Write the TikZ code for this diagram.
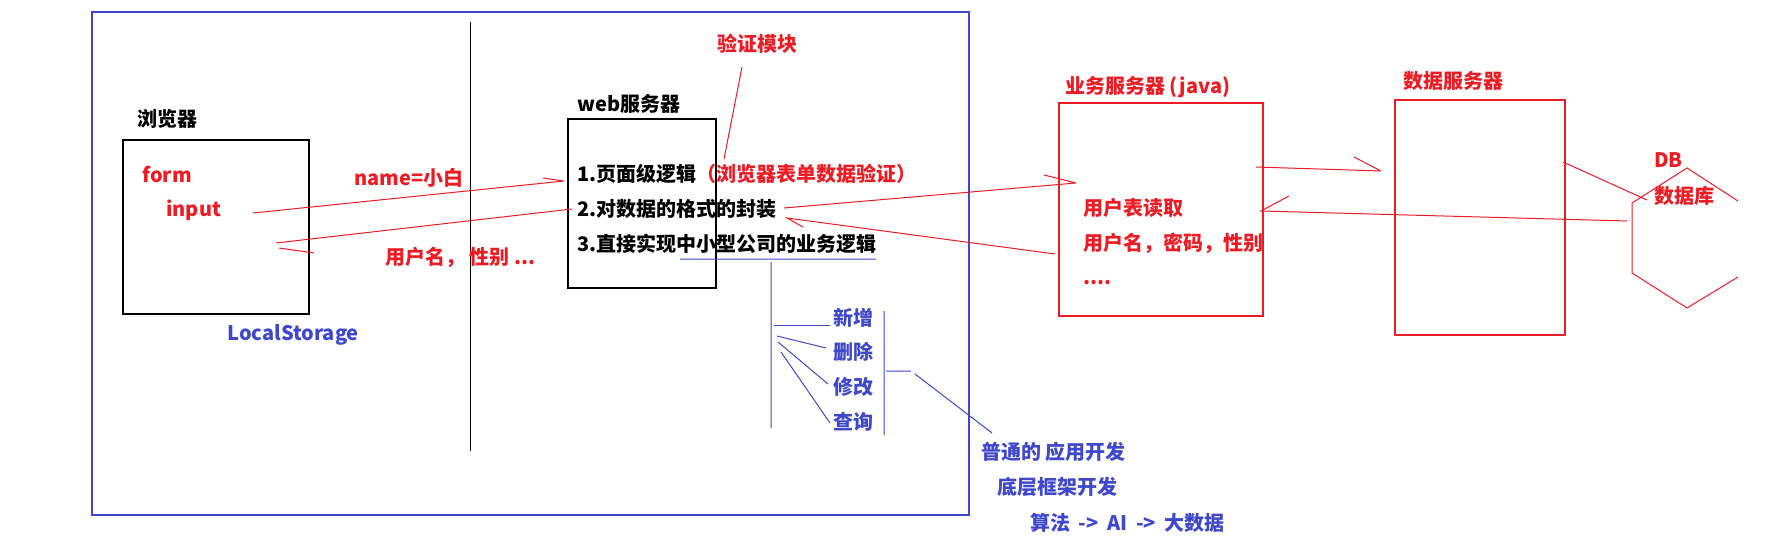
\documentclass[tikz,border=0pt]{standalone}
\usepackage{fontspec}
\setmainfont{Noto Sans CJK SC}
\usetikzlibrary{positioning}
\definecolor{pred}{HTML}{ED1C24}
\definecolor{pblue}{HTML}{3F48CC}
\tikzset{
  lbl/.style={anchor=west,inner sep=0pt,font=\bfseries},
  redlbl/.style={lbl,text=pred},
  bluelbl/.style={lbl,text=pblue},
  box/.style={draw,line width=0.6pt,inner sep=0pt},
  redline/.style={pred,line width=0.5pt},
  blueline/.style={pblue,line width=0.5pt},
}

\begin{document}
\begin{tikzpicture}[x=0.5pt,y=-0.5pt]
\useasboundingbox (0,0) rectangle (1789,546);
% outer frame and divider
\draw[pblue,line width=0.7pt] (92,12) rectangle (969,515);
\coordinate (div-top) at (470,22);
\coordinate (div-bot) at (470,451);
\draw[line width=0.5pt] (div-top) -- (div-bot);

% browser
\node[box,minimum width=93pt,minimum height=87pt] (browser) at (216,227) {};
\node[lbl] (browser-t) at (137,119) {浏览器};
\node[redlbl] (form) at (142,175) {form};
\node[redlbl] (input) at (166,210) {input};
\node[bluelbl] (storage) at (227,335) {LocalStorage};
\node[redlbl] (req) at (354,178) {name=小白};
\node[redlbl] (resp) at (385,257) {用户名， 性别 ...};

% web server
\node[box,minimum width=74pt,minimum height=84.5pt] (web) at (642,203.5) {};
\node[lbl] (web-t) at (577,104) {web服务器};
\node[redlbl] (check) at (717,44) {验证模块};
\node[lbl] (item1) at (577,174) {1.页面级逻辑\textcolor{pred}{（浏览器表单数据验证）}};
\node[lbl] (item2) at (577,209) {2.对数据的格式的封装};
\node[lbl] (item3) at (577,244) {3.直接实现中小型公司的业务逻辑};

% crud
\foreach \y/\name/\txt in {318/add/新增,352/del/删除,387/mod/修改,422/qry/查询}
  \node[bluelbl] (\name) at (833,\y) {\txt};
\node[bluelbl] (dev1) at (981,452) {普通的 应用开发};
\node[bluelbl] (dev2) at (997,487) {底层框架开发};
\node[bluelbl] (dev3) at (1030,523) {算法 \hspace{2pt}-> \hspace{2pt}AI \hspace{2pt}-> \hspace{2pt}大数据};

% business and data servers
\node[box,draw=pred,minimum width=102pt,minimum height=106.5pt] (biz) at (1161,209.5) {};
\node[redlbl] (biz-t) at (1065,87) {业务服务器 (java)};
\node[redlbl] (read) at (1083,208) {用户表读取};
\node[redlbl] (cols) at (1083,243) {用户名，密码，性别};
\node[redlbl] (more) at (1083,283) {....};
\node[box,draw=pred,minimum width=85pt,minimum height=117.5pt] (data) at (1480,217.5) {};
\node[redlbl] (data-t) at (1403,81) {数据服务器};
\node[redlbl] (db-t) at (1654,160) {DB};
\node[redlbl] (db-sub) at (1654,196) {数据库};
\draw[redline] (1738,201) -- (1687,168) -- (1632,203) -- (1632,273) -- (1687,308) -- (1738,277);

% red connectors
\coordinate (a1) at (253,213); \coordinate (a2) at (564,181); \coordinate (a3) at (543,178);
\coordinate (b1) at (572,209); \coordinate (b2) at (276,243); \coordinate (b3) at (279,248); \coordinate (b4) at (314,253);
\coordinate (c1) at (742,67); \coordinate (c2) at (724,159);
\coordinate (d1) at (784,208); \coordinate (d2) at (1076,183); \coordinate (d3) at (1044,175);
\coordinate (e1) at (1055,254); \coordinate (e2) at (787,218); \coordinate (e3) at (803,227);
\coordinate (f1) at (1256,167); \coordinate (f2) at (1381,171); \coordinate (f3) at (1354,157);
\coordinate (g1) at (1627,221); \coordinate (g2) at (1261,211); \coordinate (g3) at (1289,196);
\coordinate (h1) at (1563,162); \coordinate (h2) at (1647,200);
\draw[redline] (a1) -- (a2) (a3) -- (a2);
\draw[redline] (b1) -- (b2) (b3) -- (b4);
\draw[redline] (c1) -- (c2);
\draw[redline] (d1) -- (d2) (d3) -- (d2);
\draw[redline] (e1) -- (e2) -- (e3);
\draw[redline] (f1) -- (f2) (f3) -- (f2);
\draw[redline] (g1) -- (g2) -- (g3);
\draw[redline] (h1) -- (h2);

% blue brackets
\coordinate (u1) at (680,259); \coordinate (u2) at (876,259);
\coordinate (v1) at (771,262); \coordinate (v2) at (771,428);
\coordinate (w1) at (884,311); \coordinate (w2) at (884,435);
\coordinate (k1) at (886,371); \coordinate (k2) at (911,371);
\coordinate (k3) at (915,374); \coordinate (k4) at (992,433);
\draw[blueline] (u1) -- (u2) (v1) -- (v2) (w1) -- (w2) (k1) -- (k2) (k3) -- (k4);
\foreach \xa/\ya/\xb/\yb in {774/325/830/325,777/336/826/348,778/342/828/384,781/352/830/423}
  \draw[blueline] (\xa,\ya) coordinate (fan-s) -- (\xb,\yb) coordinate (fan-e);
\end{tikzpicture}
\end{document}
